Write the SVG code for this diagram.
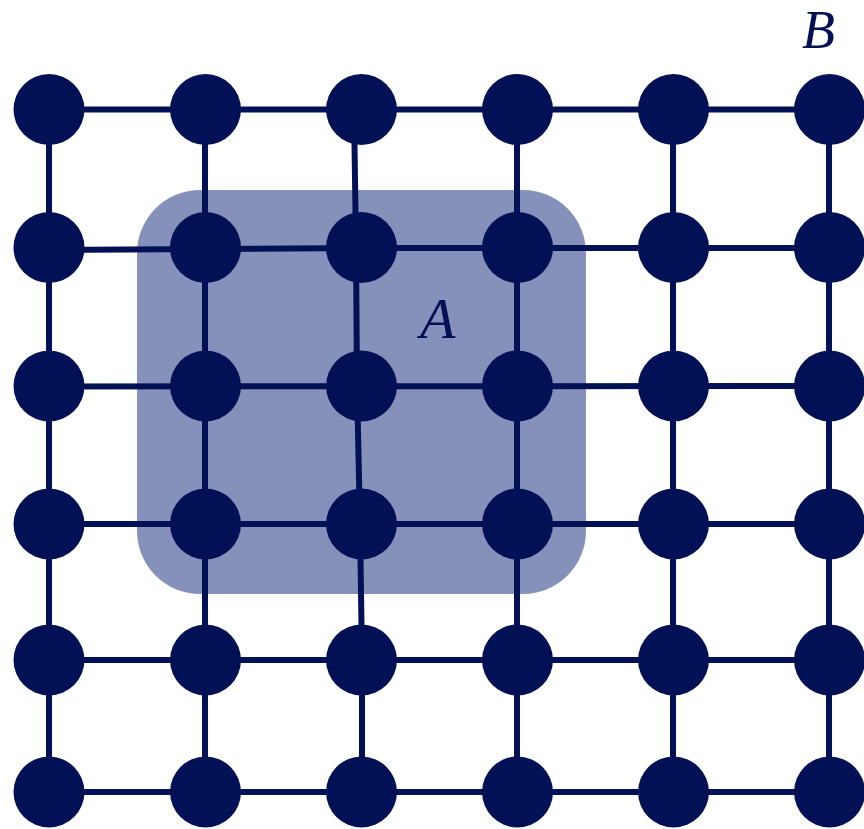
<svg xmlns="http://www.w3.org/2000/svg" width="864" height="829" viewBox="0 0 864 829">
<style>
.n{fill:#021155}
.e{stroke:#021155;stroke-width:6;fill:none;stroke-linecap:butt}
.lbl{font-family:"Liberation Serif","DejaVu Serif",serif;font-style:italic;font-size:58px;fill:#021155}
</style>
<rect id="region-A" x="137" y="190" width="449" height="404" rx="63" ry="63" fill="#8591bb"/>
<g id="connectors">
<polyline class="e" points="49,109.5 829,109.5"/>
<polyline class="e" points="49,250 205,249 361,248 829,248"/>
<polyline class="e" points="49,386.5 829,386"/>
<polyline class="e" points="49,524 829,524"/>
<polyline class="e" points="49,660 829,660"/>
<polyline class="e" points="49,792 829,792"/>
<polyline class="e" points="49,109.5 49,792"/>
<polyline class="e" points="205,109.5 205,792"/>
<polyline class="e" points="354,109.5 356,248 357,386 360,524 362,660 362,792"/>
<polyline class="e" points="517,109.5 517,792"/>
<polyline class="e" points="673,109.5 673,792"/>
<polyline class="e" points="829,109.5 829,792"/>
</g>
<g id="n11"><circle class="n" cx="49" cy="109.5" r="35.5"/></g>
<g id="n12"><circle class="n" cx="205.5" cy="109.5" r="35.5"/></g>
<g id="n13"><circle class="n" cx="361.5" cy="109.5" r="35.5"/></g>
<g id="n14"><circle class="n" cx="517.5" cy="109.5" r="35.5"/></g>
<g id="n15"><circle class="n" cx="673.5" cy="109.5" r="35.5"/></g>
<g id="n16"><circle class="n" cx="829.5" cy="109.5" r="35.5"/></g>
<g id="n21"><circle class="n" cx="49" cy="247.5" r="35.5"/></g>
<g id="n22"><circle class="n" cx="205.5" cy="247.5" r="35.5"/></g>
<g id="n23"><circle class="n" cx="361.5" cy="247.5" r="35.5"/></g>
<g id="n24"><circle class="n" cx="517.5" cy="247.5" r="35.5"/></g>
<g id="n25"><circle class="n" cx="673.5" cy="247.5" r="35.5"/></g>
<g id="n26"><circle class="n" cx="829.5" cy="247.5" r="35.5"/></g>
<g id="n31"><circle class="n" cx="49" cy="386" r="35.5"/></g>
<g id="n32"><circle class="n" cx="205.5" cy="386" r="35.5"/></g>
<g id="n33"><circle class="n" cx="361.5" cy="386" r="35.5"/></g>
<g id="n34"><circle class="n" cx="517.5" cy="386" r="35.5"/></g>
<g id="n35"><circle class="n" cx="673.5" cy="386" r="35.5"/></g>
<g id="n36"><circle class="n" cx="829.5" cy="386" r="35.5"/></g>
<g id="n41"><circle class="n" cx="49" cy="524" r="35.5"/></g>
<g id="n42"><circle class="n" cx="205.5" cy="524" r="35.5"/></g>
<g id="n43"><circle class="n" cx="361.5" cy="524" r="35.5"/></g>
<g id="n44"><circle class="n" cx="517.5" cy="524" r="35.5"/></g>
<g id="n45"><circle class="n" cx="673.5" cy="524" r="35.5"/></g>
<g id="n46"><circle class="n" cx="829.5" cy="524" r="35.5"/></g>
<g id="n51"><circle class="n" cx="49" cy="660" r="35.5"/></g>
<g id="n52"><circle class="n" cx="205.5" cy="660" r="35.5"/></g>
<g id="n53"><circle class="n" cx="361.5" cy="660" r="35.5"/></g>
<g id="n54"><circle class="n" cx="517.5" cy="660" r="35.5"/></g>
<g id="n55"><circle class="n" cx="673.5" cy="660" r="35.5"/></g>
<g id="n56"><circle class="n" cx="829.5" cy="660" r="35.5"/></g>
<g id="n61"><circle class="n" cx="49" cy="792" r="35.5"/></g>
<g id="n62"><circle class="n" cx="205.5" cy="792" r="35.5"/></g>
<g id="n63"><circle class="n" cx="361.5" cy="792" r="35.5"/></g>
<g id="n64"><circle class="n" cx="517.5" cy="792" r="35.5"/></g>
<g id="n65"><circle class="n" cx="673.5" cy="792" r="35.5"/></g>
<g id="n66"><circle class="n" cx="829.5" cy="792" r="35.5"/></g>
<text class="lbl" x="420" y="338">A</text>
<text class="lbl" x="802" y="48" style="font-size:54px">B</text>
</svg>
